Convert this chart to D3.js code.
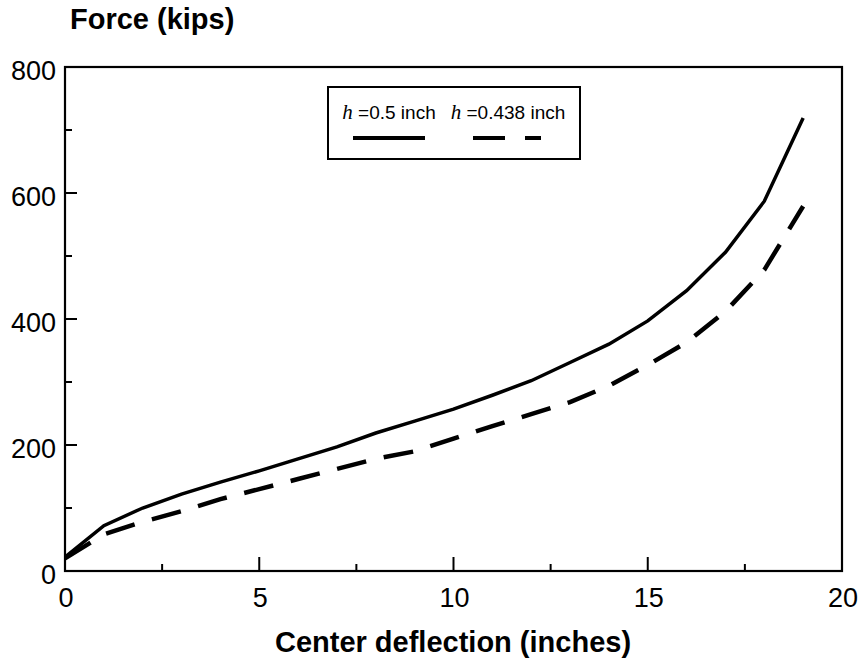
<!DOCTYPE html>
<html>
<head>
<meta charset="utf-8">
<script src="https://cdn.jsdelivr.net/npm/d3@7"></script>
<style>
  html, body { margin: 0; padding: 0; background: #fff; }
  svg { display: block; }
</style>
</head>
<body>
<svg id="chart" width="865" height="660"></svg>
<script>
// ---- data ----
const deflection = [0,1,2,3,4,5,6,7,8,9,10,11,12,13,14,15,16,17,18,19];
const forceH0500 = [22,72,100,122,141,159,178,197,219,238,257,279,302,331,360,397,445,506,587,719];
const forceH0438 = [20,58,78,95,114,130,146,162,178,190,210,230,249,268,294,327,363,412,478,579];
const xTickValues = [0,5,10,15,20];
const yTickValues = [0,200,400,600,800];
const seriesLabels = ["=0.5 inch", "=0.438 inch"];

const svg = d3.select("#chart");
const x = d3.scaleLinear().domain([0,20]).range([65,842]);
const y = d3.scaleLinear().domain([0,800]).range([571,67]);
const font = "'Liberation Sans', Arial, Helvetica, sans-serif";

// frame
svg.append("rect")
  .attr("x", x(0)).attr("y", y(800))
  .attr("width", x(20)-x(0)).attr("height", y(0)-y(800))
  .attr("fill", "none").attr("stroke", "#000").attr("stroke-width", 2.2);

// y ticks (inward)
const yMinor = d3.range(100, 800, 200);
svg.append("g").selectAll("line").data(yTickValues.filter(v => v>0 && v<800)).join("line")
  .attr("x1", x(0)).attr("x2", x(0)+12).attr("y1", d=>y(d)).attr("y2", d=>y(d))
  .attr("stroke", "#000").attr("stroke-width", 2);
svg.append("g").selectAll("line").data(yMinor).join("line")
  .attr("x1", x(0)).attr("x2", x(0)+7).attr("y1", d=>y(d)).attr("y2", d=>y(d))
  .attr("stroke", "#000").attr("stroke-width", 2);

// x ticks (inward)
const xMinor = d3.range(2.5, 20, 5);
svg.append("g").selectAll("line").data(xTickValues.filter(v => v>0 && v<20)).join("line")
  .attr("x1", d=>x(d)).attr("x2", d=>x(d)).attr("y1", y(0)).attr("y2", y(0)-14)
  .attr("stroke", "#000").attr("stroke-width", 2);
svg.append("g").selectAll("line").data(xMinor).join("line")
  .attr("x1", d=>x(d)).attr("x2", d=>x(d)).attr("y1", y(0)).attr("y2", y(0)-7)
  .attr("stroke", "#000").attr("stroke-width", 2);

// tick labels
svg.append("g").selectAll("text").data(yTickValues).join("text")
  .attr("x", 56).attr("y", d=>y(d)+13)
  .attr("text-anchor", "end")
  .style("font-family", font).style("font-size", "27px").attr("fill", "#000")
  .text(d=>d);
svg.append("g").selectAll("text").data(xTickValues).join("text")
  .attr("x", d=>x(d)+1).attr("y", 607)
  .attr("text-anchor", "middle")
  .style("font-family", font).style("font-size", "27px").attr("fill", "#000")
  .text(d=>d);

// axis titles
svg.append("text").attr("x", 70).attr("y", 29)
  .style("font-family", font).style("font-size", "29px").style("font-weight", "bold")
  .text("Force (kips)");
svg.append("text").attr("x", 453).attr("y", 652).attr("text-anchor", "middle")
  .style("font-family", font).style("font-size", "29px").style("font-weight", "bold")
  .text("Center deflection (inches)");

// curves
const line = d3.line().x((d,i)=>x(deflection[i])).y(d=>y(d));
svg.append("path").datum(forceH0438)
  .attr("d", line).attr("fill", "none").attr("stroke", "#000")
  .attr("stroke-width", 4.5).attr("stroke-dasharray", "30,18");
svg.append("path").datum(forceH0500)
  .attr("d", line).attr("fill", "none").attr("stroke", "#000")
  .attr("stroke-width", 3.5);

// legend
const lg = svg.append("g");
lg.append("rect").attr("x", 328).attr("y", 87).attr("width", 252).attr("height", 72)
  .attr("fill", "#fff").attr("stroke", "#000").attr("stroke-width", 2);
const legendItems = [
  {cx: 389, label: seriesLabels[0], dash: null, x1: 353, x2: 425},
  {cx: 508, label: seriesLabels[1], dash: "32,20", x1: 473, x2: 541}
];
legendItems.forEach(it => {
  const t = lg.append("text").attr("x", it.cx).attr("y", 119).attr("text-anchor", "middle")
    .style("font-family", font).style("font-size", "19px");
  t.append("tspan").style("font-family", "'Liberation Serif', 'Times New Roman', serif")
    .style("font-style", "italic").style("font-size", "21px").text("h");
  t.append("tspan").text(" " + it.label);
  lg.append("line").attr("x1", it.x1).attr("x2", it.x2).attr("y1", 138).attr("y2", 138)
    .attr("stroke", "#000").attr("stroke-width", 4)
    .attr("stroke-dasharray", it.dash);
});
</script>
</body>
</html>
